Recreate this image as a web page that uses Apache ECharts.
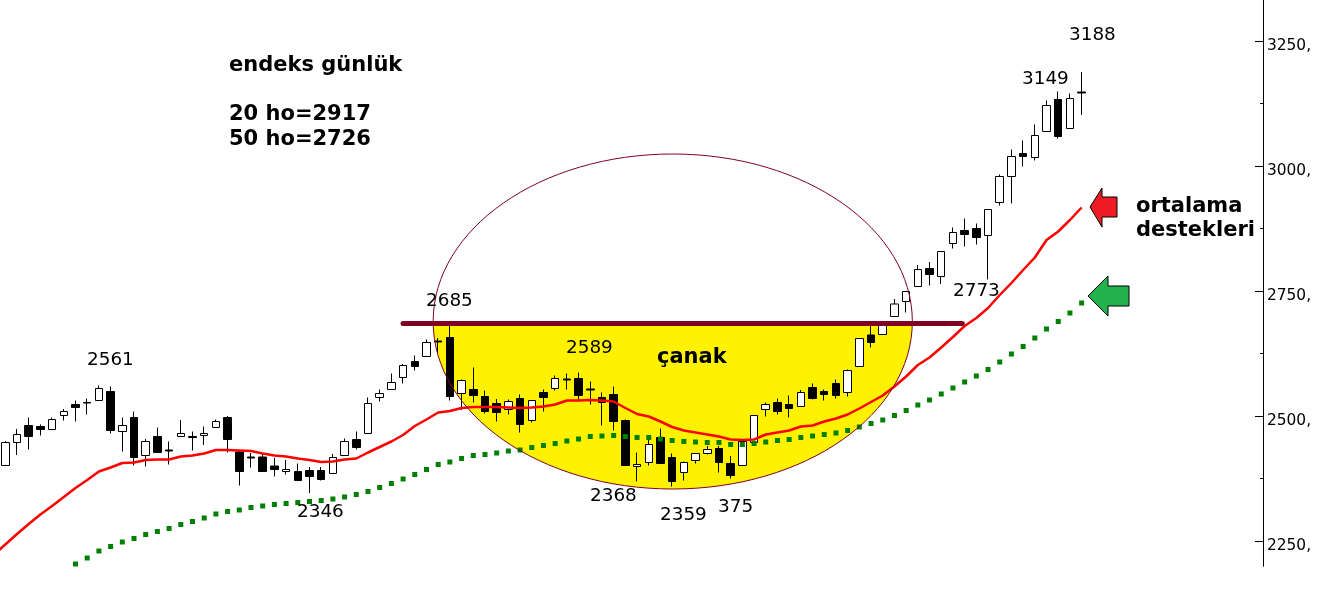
<!DOCTYPE html>
<html>
<head>
<meta charset="utf-8">
<style>html,body{margin:0;padding:0;background:#fff}#c{width:1318px;height:612px}</style>
<script src="https://cdn.jsdelivr.net/npm/echarts@6/dist/echarts.min.js"></script>
</head>
<body>
<div id="c"></div>
<script>
const opens = [2401,2447,2481,2479,2473,2501,2523,2527,2531,2549,2469,2497,2421,2459,2432,2459,2459,2461,2477,2497,2428,2418,2418,2400,2389,2389,2391,2391,2385,2421,2453,2465,2537,2553,2577,2609,2619,2650,2657,2545,2553,2539,2525,2513,2535,2491,2547,2555,2574,2575,2554,2537,2543,2491,2399,2407,2457,2417,2387,2411,2425,2435,2405,2401,2447,2513,2527,2523,2519,2557,2549,2565,2547,2599,2662,2663,2699,2729,2759,2795,2779,2845,2871,2875,2861,2927,2979,3025,3017,3069,3133,3075,3148];
const closes = [2447,2463,2459,2473,2493,2509,2517,2526,2555,2471,2481,2417,2449,2427,2430,2465,2457,2465,2489,2453,2389,2416,2389,2393,2393,2371,2379,2373,2417,2449,2437,2525,2545,2567,2601,2599,2647,2648,2539,2571,2541,2509,2507,2529,2483,2531,2537,2575,2572,2541,2552,2527,2489,2401,2403,2443,2405,2369,2407,2425,2433,2407,2381,2449,2501,2523,2509,2515,2547,2535,2543,2541,2591,2655,2647,2684,2724,2749,2793,2783,2829,2867,2863,2857,2913,2979,3019,3019,3061,3121,3059,3135,3146];
const lows = [2401,2422,2433,2461,2473,2491,2489,2503,2531,2465,2429,2401,2399,2427,2403,2459,2431,2442,2477,2427,2361,2397,2389,2379,2383,2371,2346,2371,2385,2421,2433,2465,2529,2553,2565,2591,2619,2625,2531,2512,2527,2505,2489,2503,2467,2487,2509,2551,2553,2533,2523,2481,2471,2401,2369,2401,2405,2359,2371,2405,2423,2387,2375,2401,2447,2499,2503,2497,2519,2533,2531,2535,2539,2599,2637,2663,2699,2707,2759,2761,2764,2835,2839,2843,2773,2921,2925,2999,3011,3069,3055,3075,3102];
const highs = [2450,2474,2497,2483,2497,2514,2531,2535,2561,2559,2497,2509,2454,2477,2449,2492,2469,2479,2493,2500,2431,2426,2426,2416,2412,2405,2398,2398,2424,2455,2469,2537,2553,2585,2604,2621,2653,2656,2685,2573,2597,2551,2534,2533,2543,2531,2553,2581,2585,2587,2569,2547,2559,2493,2427,2452,2475,2425,2409,2425,2440,2440,2420,2452,2501,2527,2535,2541,2552,2565,2553,2573,2593,2655,2685,2685,2734,2749,2802,2808,2829,2877,2895,2885,2913,2983,3033,3051,3083,3131,3149,3145,3188];
// 20-day average, first value belongs to the day just left of the visible window
const ma20 = [2222,2243,2264,2284,2303,2320,2338,2356,2372,2389,2397,2406,2407,2412,2413,2413,2419,2421,2425,2432,2432,2431,2430,2425,2421,2419,2415,2412,2408,2409,2413,2415,2427,2438,2449,2462,2480,2493,2507,2510,2516,2518,2518,2518,2517,2516,2517,2519,2523,2531,2531,2532,2531,2529,2516,2504,2499,2489,2478,2471,2467,2463,2459,2453,2452,2453,2463,2467,2471,2479,2481,2489,2495,2503,2515,2528,2541,2559,2579,2602,2617,2637,2658,2680,2696,2716,2742,2766,2792,2817,2852,2869,2892,2917];
// 50-day average starts at day index 6
const ma50 = [2204,2216,2230,2239,2248,2255,2263,2269,2275,2283,2289,2296,2304,2309,2312,2317,2320,2323,2325,2327,2329,2331,2334,2338,2343,2349,2357,2365,2374,2383,2393,2403,2408,2415,2421,2423,2426,2430,2432,2437,2441,2445,2450,2454,2459,2460,2461,2459,2457,2457,2454,2451,2449,2448,2447,2447,2443,2443,2445,2448,2451,2453,2457,2460,2463,2466,2471,2478,2485,2492,2501,2511,2522,2532,2544,2556,2568,2580,2593,2608,2624,2639,2656,2674,2689,2706,2726];
const majorTicks = [2250,2500,2750,3000,3250];
const minorTicks = [2375,2625,2875,3125];
const level = 2685;
const levelFrom = 34.0, levelTo = 81.8;
const bowlLeft = 36.57, bowlRight = 77.53, bowlTop = 3024, bowlBottom = 2354;

const SLOTS = 109;
const categories = Array.from({length: SLOTS}, (_, i) => String(i));
const candles = [['-','-','-','-']].concat(opens.map((o, i) => [o, closes[i], lows[i], highs[i]]));
const ma50Line = Array(7).fill('-').concat(ma50);

function bowlGeom(api) {
  const a = api.coord([bowlLeft, bowlTop]), b = api.coord([bowlRight, bowlBottom]);
  return {cx: (a[0] + b[0]) / 2, cy: (a[1] + b[1]) / 2, rx: (b[0] - a[0]) / 2, ry: (b[1] - a[1]) / 2};
}
function renderFill(params, api) {
  const g = bowlGeom(api), ly = api.coord([bowlLeft, level])[1], pts = [];
  for (let k = 0; k <= 240; k++) {
    const t = Math.PI * k / 240;
    pts.push([g.cx + g.rx * Math.cos(t), Math.max(ly, g.cy + g.ry * Math.sin(t))]);
  }
  return {type: 'polygon', shape: {points: pts}, style: {fill: '#fff200', stroke: null}};
}
function renderOutline(params, api) {
  const g = bowlGeom(api);
  return {type: 'ellipse', shape: {cx: g.cx, cy: g.cy, rx: g.rx, ry: g.ry}, style: {fill: null, stroke: '#800028', lineWidth: 1}};
}
function renderLevel(params, api) {
  const a = api.coord([levelFrom, level]), b = api.coord([levelTo, level]);
  return {type: 'line', shape: {x1: a[0], y1: a[1], x2: b[0], y2: b[1]}, style: {stroke: '#7f0020', lineWidth: 5, lineCap: 'round'}};
}

const NUM = '18.4px "DejaVu Sans"', BOLD = 'bold 21px "DejaVu Sans"';
function txt(text, x, y, font) {
  return {type: 'text', x, y, z: 100, style: {text, font, fill: '#000', align: 'left', verticalAlign: 'middle'}};
}
function arrow(points, fill) {
  return {type: 'polygon', z: 100, shape: {points}, style: {fill, stroke: '#000', lineWidth: 1}};
}

const plot = {left: -12.24, top: 0, width: 1275.2, height: 566, containLabel: false, outerBoundsMode: 'none'};
const chart = echarts.init(document.getElementById('c'), null, {renderer: 'canvas'});
chart.setOption({
  animation: false,
  backgroundColor: '#fff',
  grid: [plot, Object.assign({}, plot)],
  xAxis: [
    {type: 'category', gridIndex: 0, data: categories, show: false, boundaryGap: true},
    {type: 'value', gridIndex: 0, show: false, min: -1.5, max: SLOTS - 1.5},
    {type: 'value', gridIndex: 1, show: false, min: 0, max: 1}
  ],
  yAxis: [
    {type: 'value', gridIndex: 0, position: 'right', min: 2200, max: 3332, scale: true,
     splitLine: {show: false},
     axisLine: {show: true, onZero: false, lineStyle: {color: '#000', width: 1}},
     axisTick: {show: true, inside: true, length: 8, lineStyle: {color: '#000'}, customValues: majorTicks},
     axisLabel: {show: true, customValues: majorTicks, margin: 4,
       formatter: v => '{t|' + v + ',}',
       rich: {t: {color: '#000', fontFamily: 'DejaVu Sans', fontSize: 15.4, padding: [9, 0, 0, 0]}}}},
    {type: 'value', gridIndex: 1, position: 'right', min: 2200, max: 3332, scale: true, show: true,
     splitLine: {show: false}, axisLabel: {show: false},
     axisLine: {show: true, onZero: false, lineStyle: {color: '#000', width: 1}},
     axisTick: {show: true, inside: true, length: 3, lineStyle: {color: '#000'}, customValues: minorTicks}}
  ],
  series: [
    {type: 'custom', xAxisIndex: 1, yAxisIndex: 0, z: 1, clip: false, silent: true, renderItem: renderFill, data: [[bowlLeft, bowlBottom]]},
    {type: 'candlestick', xAxisIndex: 0, yAxisIndex: 0, z: 2, barWidth: 8, data: candles,
     itemStyle: {color: '#fff', color0: '#000', borderColor: '#000', borderColor0: '#000', borderWidth: 1}},
    {type: 'line', xAxisIndex: 0, yAxisIndex: 0, z: 3, data: ma20, symbol: 'none', smooth: false,
     lineStyle: {color: '#ff0000', width: 2.5}},
    {type: 'line', xAxisIndex: 0, yAxisIndex: 0, z: 3, data: ma50Line, symbol: 'rect', symbolSize: 5, showAllSymbol: true,
     itemStyle: {color: '#008000'}, lineStyle: {opacity: 0, width: 0}},
    {type: 'custom', xAxisIndex: 1, yAxisIndex: 0, z: 4, clip: false, silent: true, renderItem: renderOutline, data: [[bowlLeft, bowlTop]]},
    {type: 'custom', xAxisIndex: 1, yAxisIndex: 0, z: 5, clip: false, silent: true, renderItem: renderLevel, data: [[levelFrom, level]]},
    {type: 'scatter', xAxisIndex: 2, yAxisIndex: 1, symbolSize: 0, silent: true, data: [[0, 2200]]}
  ],
  graphic: [
    txt('endeks günlük', 229, 66, BOLD),
    txt('20 ho=2917', 229, 115, BOLD),
    txt('50 ho=2726', 229, 140, BOLD),
    txt('2561', 87, 360, NUM),
    txt('2346', 297, 512, NUM),
    txt('2685', 426, 301, NUM),
    txt('2589', 566, 348, NUM),
    txt('çanak', 657, 358, BOLD),
    txt('2368', 590, 496, NUM),
    txt('2359', 660, 515, NUM),
    txt('375', 718, 507, NUM),
    txt('2773', 953, 291, NUM),
    txt('3149', 1022, 79, NUM),
    txt('3188', 1069, 35, NUM),
    txt('ortalama', 1136, 207, BOLD),
    txt('destekleri', 1136, 231, BOLD),
    arrow([[1090,207],[1102,188],[1102,197],[1117,197],[1117,217],[1102,217],[1102,227]], '#ed1c24'),
    arrow([[1088,296],[1108,276],[1108,286],[1129,286],[1129,306],[1108,306],[1108,316]], '#22b14c')
  ]
});
</script>
</body>
</html>
